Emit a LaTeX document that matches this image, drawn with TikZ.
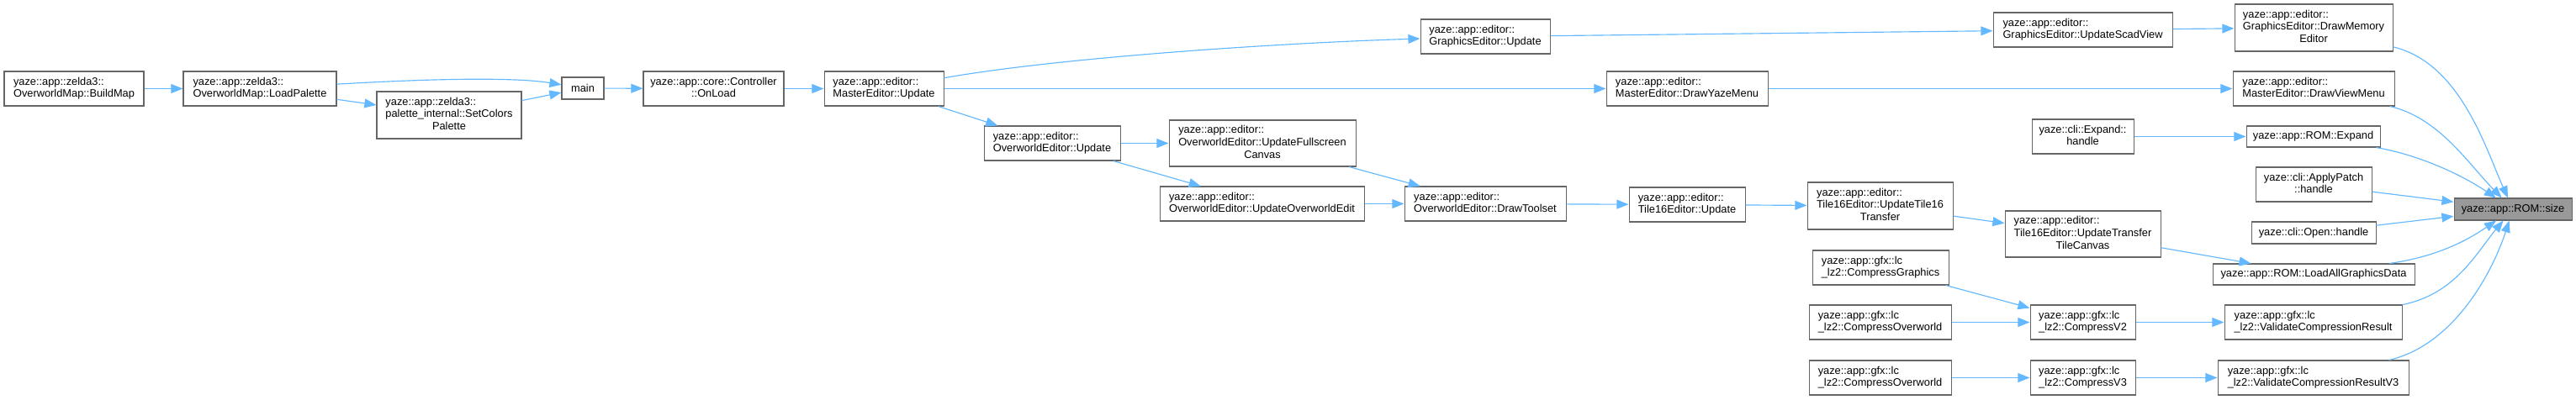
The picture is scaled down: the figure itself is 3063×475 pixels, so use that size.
\documentclass[tikz,border=0pt]{standalone}
\usepackage{fontspec}
\usepackage{tikz}
\usetikzlibrary{arrows.meta}
\setmainfont{Liberation Sans}
\definecolor{cedge}{HTML}{63B8FF}
\definecolor{cborder}{HTML}{666666}
\definecolor{cfill}{HTML}{999999}
% two- and three-line labels: first lines left, last line centred
\newcommand{\fnl}[2]{\begin{tabular}{@{}c@{}}\multicolumn{1}{@{}l@{}}{#1}\\#2\end{tabular}}
\newcommand{\fnll}[3]{\begin{tabular}{@{}c@{}}\multicolumn{1}{@{}l@{}}{#1}\\\multicolumn{1}{@{}l@{}}{#2}\\#3\end{tabular}}
\tikzset{
  fn/.style={draw=cborder, fill=white, line width=0.8pt, inner sep=0pt,
    font=\fontsize{10}{11.5}\selectfont},
  sel/.style={fn, fill=cfill},
  wh/.style 2 args={minimum width=#1*0.78pt, minimum height=#2*0.78pt},
  call/.style={draw=cedge, line width=0.9pt, -{Triangle[length=11pt,width=8.5pt]}}
}

\begin{document}
\begin{tikzpicture}[x=0.78pt, y=-0.78pt]
  \useasboundingbox (0,0) rectangle (3063,475);
  % Callers, left part
  \node[fn, wh={166}{41}] (bm) at (88,105.5) {\fnl{yaze::app::zelda3::}{OverworldMap::BuildMap}};
  \node[fn, wh={182}{41}] (lp) at (309,105.5) {\fnl{yaze::app::zelda3::}{OverworldMap::LoadPalette}};
  \node[fn, wh={172}{56}] (scp) at (534,137) {\fnll{yaze::app::zelda3::}{palette\_internal::SetColors}{Palette}};
  \node[fn, wh={50}{26}] (main) at (693,105) {main};
  \node[fn, wh={167}{41}] (onl) at (848.5,105.5) {\fnl{yaze::app::core::Controller}{::OnLoad}};
  \node[fn, wh={142}{41}] (meu) at (1051,105.5) {\fnl{yaze::app::editor::}{MasterEditor::Update}};
  \node[fn, wh={162}{41}] (oeu) at (1251,170.5) {\fnl{yaze::app::editor::}{OverworldEditor::Update}};
  \node[fn, wh={222}{55}] (ufc) at (1501,170.5) {\fnll{yaze::app::editor::}{OverworldEditor::UpdateFullscreen}{Canvas}};
  \node[fn, wh={243}{41}] (uoe) at (1500.5,242.5) {\fnl{yaze::app::editor::}{OverworldEditor::UpdateOverworldEdit}};
  \node[fn, wh={154}{41}] (geu) at (1766,43.5) {\fnl{yaze::app::editor::}{GraphicsEditor::Update}};
  \node[fn, wh={192}{41}] (dts) at (1766,242.5) {\fnl{yaze::app::editor::}{OverworldEditor::DrawToolset}};
  \node[fn, wh={192}{41}] (dym) at (2006,105.5) {\fnl{yaze::app::editor::}{MasterEditor::DrawYazeMenu}};
  \node[fn, wh={138}{41}] (t16u) at (2006,243.5) {\fnl{yaze::app::editor::}{Tile16Editor::Update}};
  % Middle column
  \node[fn, wh={213}{41}] (usv) at (2476.5,35.5) {\fnl{yaze::app::editor::}{GraphicsEditor::UpdateScadView}};
  \node[fn, wh={121}{41}] (exh) at (2476.5,162.5) {\fnl{yaze::cli::Expand::}{handle}};
  \node[fn, wh={173}{56}] (t16t) at (2235.5,245) {\fnll{yaze::app::editor::}{Tile16Editor::UpdateTile16}{Transfer}};
  \node[fn, wh={185}{55}] (uttc) at (2476.5,278.5) {\fnll{yaze::app::editor::}{Tile16Editor::UpdateTransfer}{TileCanvas}};
  \node[fn, wh={162}{41}] (cg) at (2236,318.5) {\fnl{yaze::app::gfx::lc}{\_lz2::CompressGraphics}};
  \node[fn, wh={169}{41}] (co1) at (2235.5,383.5) {\fnl{yaze::app::gfx::lc}{\_lz2::CompressOverworld}};
  \node[fn, wh={125}{41}] (cv2) at (2476.5,383.5) {\fnl{yaze::app::gfx::lc}{\_lz2::CompressV2}};
  \node[fn, wh={169}{41}] (co2) at (2235.5,449.5) {\fnl{yaze::app::gfx::lc}{\_lz2::CompressOverworld}};
  \node[fn, wh={125}{41}] (cv3) at (2476.5,449.5) {\fnl{yaze::app::gfx::lc}{\_lz2::CompressV3}};
  % Direct callers
  \node[fn, wh={188}{56}] (dme) at (2751,33) {\fnll{yaze::app::editor::}{GraphicsEditor::DrawMemory}{Editor}};
  \node[fn, wh={192}{41}] (dvm) at (2751,105.5) {\fnl{yaze::app::editor::}{MasterEditor::DrawViewMenu}};
  \node[fn, wh={159}{25}] (exp) at (2750.5,162.5) {yaze::app::ROM::Expand};
  \node[fn, wh={138}{41}] (aph) at (2751,219.5) {\fnl{yaze::cli::ApplyPatch}{::handle}};
  \node[fn, wh={148}{26}] (opn) at (2751,277) {yaze::cli::Open::handle};
  \node[fn, wh={240}{25}] (lagd) at (2751,326.5) {yaze::app::ROM::LoadAllGraphicsData};
  \node[fn, wh={211}{41}] (vcr) at (2750.5,383.5) {\fnl{yaze::app::gfx::lc}{\_lz2::ValidateCompressionResult}};
  \node[fn, wh={227}{41}] (vcr3) at (2750.5,449.5) {\fnl{yaze::app::gfx::lc}{\_lz2::ValidateCompressionResultV3}};
  % The function itself
  \node[sel, wh={140}{26}] (size) at (2988,249) {yaze::app::ROM::size};
  % Straight calls
  \foreach \a/\b in {bm/lp, lp/scp, scp/main, main/onl, onl/meu, meu/dym, meu/oeu,
      oeu/ufc, oeu/uoe, ufc/dts, uoe/dts, dts/t16u, t16u/t16t, t16t/uttc, uttc/lagd,
      geu/usv, usv/dme, dym/dvm, exh/exp, cg/cv2, co1/cv2, cv2/vcr, co2/cv3, cv3/vcr3,
      aph/size, opn/size}{
    \draw[call] (\a) -- (\b);
  }
  % Curved calls
  \draw[call] (lp) .. controls (540,92) and (620,93) .. (main);
  \draw[call] (meu) .. controls (1250,70) and (1500,52) .. (geu);
  \draw[call] (dme) .. controls (2925,75) and (2955,175) .. (size);
  \draw[call] (dvm) .. controls (2900,140) and (2935,195) .. (size);
  \draw[call] (exp) .. controls (2880,185) and (2930,210) .. (size);
  \draw[call] (lagd) .. controls (2900,305) and (2935,285) .. (size);
  \draw[call] (vcr) .. controls (2920,350) and (2945,300) .. (size);
  \draw[call] (vcr3) .. controls (2920,410) and (2965,320) .. (size);
\end{tikzpicture}
\end{document}
